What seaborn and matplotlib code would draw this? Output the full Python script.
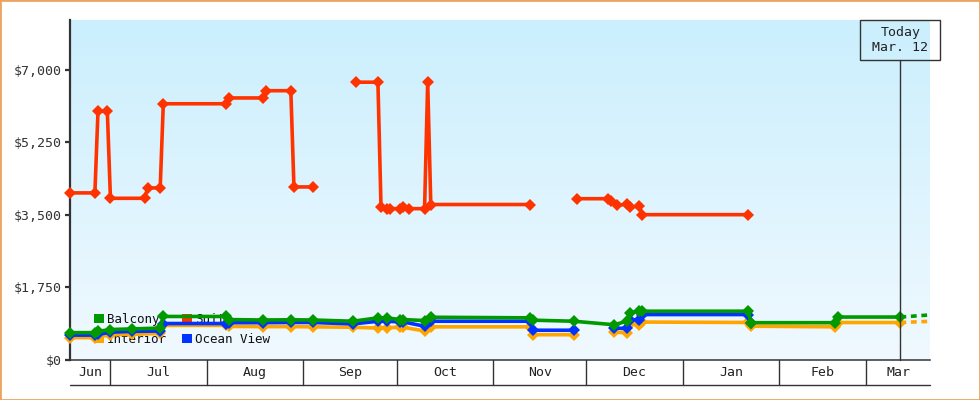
import numpy as np
import pandas as pd
import matplotlib
matplotlib.use("Agg")
import matplotlib.pyplot as plt
import matplotlib.dates as mdates
import matplotlib.transforms as mtransforms
from matplotlib.patches import Rectangle, Patch
from matplotlib.colors import LinearSegmentedColormap
import seaborn as sns

# ---------------- data ----------------
suite_dates = ["2024-06-18", "2024-06-26", "2024-06-27", "2024-06-30", "2024-07-01", "2024-07-12",
               "2024-07-13", "2024-07-17", "2024-07-18", "2024-08-07", "2024-08-08", "2024-08-19",
               "2024-08-20", "2024-08-28", "2024-08-29", "2024-09-04", "2024-09-10",
               "2024-09-18", "2024-09-25", "2024-09-26", "2024-09-28", "2024-09-29", "2024-10-02",
               "2024-10-03", "2024-10-05", "2024-10-10", "2024-10-11", "2024-10-12", "2024-11-13",
               "2024-11-20",
               "2024-11-28", "2024-12-08", "2024-12-09", "2024-12-11", "2024-12-14", "2024-12-15",
               "2024-12-18", "2024-12-19", "2025-01-22"]
suite_prices = [4030, 4030, 6000, 6000, 3900, 3900,
                4150, 4150, 6180, 6180, 6320, 6320,
                6495, 6495, 4174, 4174, None,
                6700, 6700, 3680, 3650, 3650, 3650,
                3680, 3650, 3650, 6700, 3750, 3750,
                None,
                3890, 3890, 3830, 3730, 3755, 3690,
                3710, 3505, 3505]

balcony_dates = ["2024-06-18", "2024-06-26", "2024-06-27", "2024-07-01", "2024-07-08", "2024-07-17",
                 "2024-07-18", "2024-08-07", "2024-08-08", "2024-08-19", "2024-08-28", "2024-09-04",
                 "2024-09-17", "2024-09-25", "2024-09-28", "2024-10-02", "2024-10-03", "2024-10-10",
                 "2024-10-12", "2024-11-13", "2024-11-14", "2024-11-27", "2024-12-10", "2024-12-14",
                 "2024-12-15", "2024-12-18", "2024-12-19", "2025-01-22", "2025-01-23", "2025-02-19",
                 "2025-02-20", "2025-03-12"]
balcony_prices = [660, 660, 690, 735, 750, 770,
                  1050, 1050, 975, 965, 970, 965,
                  935, 1017, 1017, 975, 975, 952,
                  1031, 1017, 960, 935, 850, 935,
                  1138, 1177, 1177, 1177, 900, 900,
                  1036, 1036]

ocean_dates = ["2024-06-18", "2024-06-26", "2024-06-27", "2024-07-01", "2024-07-08", "2024-07-17",
               "2024-07-18", "2024-08-07", "2024-08-08", "2024-08-19", "2024-08-28", "2024-09-04",
               "2024-09-17", "2024-09-25", "2024-09-28", "2024-10-02", "2024-10-03", "2024-10-10",
               "2024-10-12", "2024-11-13", "2024-11-14", "2024-11-27", "2024-12-03", "2024-12-10",
               "2024-12-14", "2024-12-15", "2024-12-18", "2024-12-19", "2025-01-22", "2025-01-23"]
ocean_prices = [600, 600, 620, 670, 690, 700,
                880, 880, 900, 900, 905, 905,
                870, 935, 935, 920, 920, 815,
                935, 935, 718, 718, None, 770,
                760, 975, 960, 1096, 1096, 900]

interior_dates = ["2024-06-18", "2024-06-26", "2024-06-27", "2024-07-01", "2024-07-08", "2024-07-17",
                  "2024-07-18", "2024-08-07", "2024-08-08", "2024-08-19", "2024-08-28", "2024-09-04",
                  "2024-09-17", "2024-09-25", "2024-09-28", "2024-10-02", "2024-10-03", "2024-10-10",
                  "2024-10-12", "2024-11-13", "2024-11-14", "2024-11-27", "2024-12-03", "2024-12-10",
                  "2024-12-14", "2024-12-15", "2024-12-18", "2024-12-19", "2025-01-22", "2025-01-23",
                  "2025-02-19", "2025-02-20", "2025-03-12"]
interior_prices = [540, 540, 560, 610, 620, 640,
                   835, 835, 810, 805, 805, 800,
                   790, 770, 780, 790, 790, 700,
                   800, 800, 610, 610, None, 670,
                   660, 870, 855, 915, 905, 815,
                   800, 904, 904]

# projection after "today"
proj_dates = ["2025-03-12", "2025-03-22"]
balcony_proj = [1036, 1090]
interior_proj = [904, 935]

series_names = ["Balcony", "Interior", "Suite", "Ocean View"]
series_colors = {"Balcony": "#009900", "Interior": "#ffa500",
                 "Suite": "#ff3300", "Ocean View": "#0033ff"}

y_ticks = [0, 1750, 3500, 5250, 7000]
y_tick_labels = ["$0", "$1,750", "$3,500", "$5,250", "$7,000"]
month_starts = ["2024-06-01", "2024-07-01", "2024-08-01", "2024-09-01", "2024-10-01", "2024-11-01",
                "2024-12-01", "2025-01-01", "2025-02-01", "2025-03-01", "2025-04-01"]
month_labels = ["Jun", "Jul", "Aug", "Sep", "Oct", "Nov", "Dec", "Jan", "Feb", "Mar"]
today = "2025-03-12"
today_label = "Today\nMar. 12"

x_start = pd.Timestamp("2024-06-18")
x_end = pd.Timestamp("2025-03-21 12:00")
y_max = 8200

# ---------------- style ----------------
sns.set_theme(style="white")
plt.rcParams["font.family"] = ["DejaVu Sans Mono", "DejaVu Sans"]
TXT = "#333333"

fig = plt.figure(figsize=(9.8, 4.0), dpi=100)
ax = fig.add_axes([70 / 980, 40 / 400, 860 / 980, 340 / 400])

# gradient background
grad = np.linspace(0, 1, 256).reshape(-1, 1)
cmap = LinearSegmentedColormap.from_list("bg", ["#f0f9ff", "#cbeffd"])
ax.imshow(grad, extent=[0, 1, 0, 1], transform=ax.transAxes, origin="lower",
          aspect="auto", cmap=cmap, zorder=0)


def draw(dates, prices, color, z, dashed=False):
    df = pd.DataFrame({"date": pd.to_datetime(dates),
                       "price": pd.array(prices, dtype="float")})
    df["seg"] = df["price"].isna().cumsum()
    df = df.dropna()
    kw = dict(data=df, x="date", y="price", units="seg", estimator=None,
              color=color, lw=2.6, ax=ax, zorder=z, legend=False, clip_on=False)
    if dashed:
        sns.lineplot(**kw, linestyle=(0, (1.6, 1.3)))
    else:
        sns.lineplot(**kw, marker="D", markersize=6, markeredgewidth=0)


draw(interior_dates, interior_prices, series_colors["Interior"], 3)
draw(ocean_dates, ocean_prices, series_colors["Ocean View"], 4)
draw(balcony_dates, balcony_prices, series_colors["Balcony"], 5)
draw(suite_dates, suite_prices, series_colors["Suite"], 6)
draw(proj_dates, interior_proj, series_colors["Interior"], 3, dashed=True)
draw(proj_dates, balcony_proj, series_colors["Balcony"], 5, dashed=True)

ax.set_xlim(x_start, x_end)
ax.set_ylim(0, y_max)
ax.set_xlabel("")
ax.set_ylabel("")

# axes / spines
for s in ["top", "right"]:
    ax.spines[s].set_visible(False)
ax.spines["left"].set_color(TXT)
ax.spines["left"].set_linewidth(1.6)
ax.spines["bottom"].set_color(TXT)
ax.spines["bottom"].set_linewidth(1.1)
ax.set_yticks(y_ticks)
ax.set_yticklabels(y_tick_labels)
ax.tick_params(axis="y", direction="out", length=3.8, width=1.6, color=TXT,
               labelsize=9.5, labelcolor=TXT, pad=2, left=True)
ax.set_xticks([])
ax.grid(False)

# month band below the axis
blend = mtransforms.blended_transform_factory(ax.transData, ax.transAxes)
band_bottom = -25 / 340
x0n, x1n = mdates.date2num(x_start), mdates.date2num(x_end)
for i, lab in enumerate(month_labels):
    a = mdates.date2num(pd.Timestamp(month_starts[i]))
    b = mdates.date2num(pd.Timestamp(month_starts[i + 1]))
    if x0n < a < x1n:
        ax.plot([a, a], [0, band_bottom], transform=blend, color=TXT, lw=1,
                clip_on=False, zorder=10)
    lo, hi = max(a, x0n), min(b, x1n)
    ax.text((lo + hi) / 2, band_bottom / 2, lab, transform=blend, ha="center",
            va="center", fontsize=9.5, color="#222222")
ax.plot([0, 1], [band_bottom, band_bottom], transform=ax.transAxes, color=TXT,
        lw=1, clip_on=False, zorder=10)

# today marker
tn = mdates.date2num(pd.Timestamp(today))
ax.plot([tn, tn], [0, 300 / 340], transform=blend, color=TXT, lw=1,
        clip_on=False, zorder=7)
box_w, box_h = 80, 40
bx = ax.transData.transform((tn, 0))[0]
fig.add_artist(Rectangle(((bx - box_w / 2) / 980, 340 / 400), box_w / 980, box_h / 400,
                         transform=fig.transFigure, fill=False, ec=TXT, lw=1, zorder=8))
fig.text(bx / 980, 360 / 400, today_label, ha="center", va="center", fontsize=9.5,
         color="#222222", linespacing=1.25)

# legend (behind lines)
handles = [Patch(facecolor=series_colors[n], edgecolor="none") for n in series_names]
leg = ax.legend(handles, series_names, ncol=2, loc="upper left",
                bbox_to_anchor=(23.5 / 860, 47 / 340), frameon=False, fontsize=9,
                handlelength=0.8, handleheight=0.8, handletextpad=0.25,
                columnspacing=1.25, labelspacing=0.55, borderpad=0, borderaxespad=0)
for t in leg.get_texts():
    t.set_color("#111111")
leg.set_zorder(2)

# outer border
fig.add_artist(Rectangle((0, 0), 1, 1, transform=fig.transFigure, fill=False,
                         ec="#eba560", lw=2))

fig.savefig("out.png", dpi=100)
